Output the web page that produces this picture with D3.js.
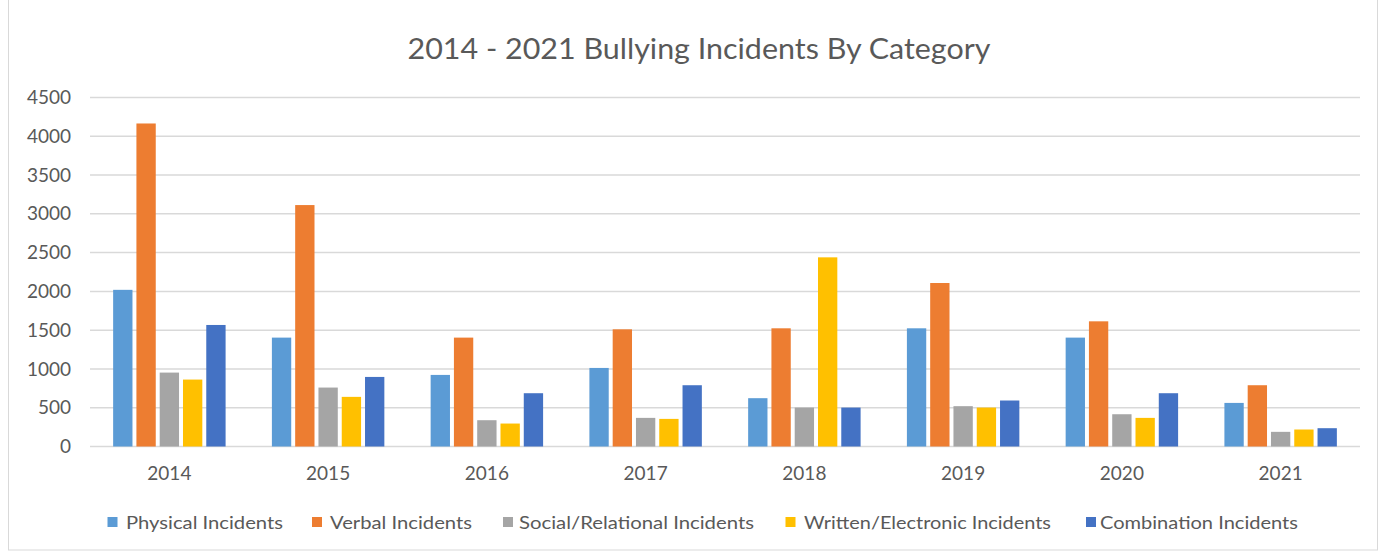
<!DOCTYPE html>
<html>
<head>
<meta charset="utf-8">
<script src="https://cdn.jsdelivr.net/npm/d3@7"></script>
<style>
  html, body { margin: 0; padding: 0; background: #fff; }
  svg { display: block; }
  text { font-family: Lato, "Noto Sans", sans-serif; fill: #595959; }
</style>
</head>
<body>
<svg id="chart" width="1379" height="552"></svg>
<script>
const years = ["2014", "2015", "2016", "2017", "2018", "2019", "2020", "2021"];
const seriesNames = ["Physical Incidents", "Verbal Incidents", "Social/Relational Incidents", "Written/Electronic Incidents", "Combination Incidents"];
const physical   = [2020, 1404, 923, 1013, 623, 1524, 1404, 562];
const verbal     = [4165, 3113, 1404, 1511, 1524, 2108, 1614, 790];
const social     = [953, 760, 339, 369, 502, 520, 416, 189];
const written    = [863, 640, 296, 356, 2439, 502, 369, 219];
const combination= [1567, 897, 687, 790, 502, 593, 687, 236];
const yTicks = [0, 500, 1000, 1500, 2000, 2500, 3000, 3500, 4000, 4500];
const colors = ["#5B9BD5", "#ED7D31", "#A5A5A5", "#FFC000", "#4472C4"];
const title = "2014 - 2021 Bullying Incidents By Category";

const seriesValues = [physical, verbal, social, written, combination];

const svg = d3.select("#chart");
const m = { left: 90, right: 1360, top: 97.5, bottom: 446.5 };

// chart border
svg.append("rect").attr("x", 8.5).attr("y", -2).attr("width", 1369).attr("height", 552)
  .attr("fill", "none").attr("stroke", "#d9d9d9").attr("stroke-width", 1);

const x0 = d3.scaleBand().domain(years).range([m.left, m.right])
  .paddingInner(0.2667).paddingOuter(0.1333);
const x1 = d3.scaleBand().domain(seriesNames).range([0, x0.bandwidth()]).paddingInner(0.17).paddingOuter(0.085);
const y = d3.scaleLinear().domain([0, 4500]).range([m.bottom, m.top]);

// gridlines
svg.append("g").selectAll("line").data(yTicks).join("line")
  .attr("x1", m.left).attr("x2", m.right)
  .attr("y1", d => y(d)).attr("y2", d => y(d))
  .attr("stroke", "#d9d9d9").attr("stroke-width", 1.5);

// y axis labels
const yAxis = d3.axisLeft(y).tickValues(yTicks).tickFormat(d3.format("d")).tickSize(0).tickPadding(0);
const gy = svg.append("g").attr("transform", `translate(71,0)`).call(yAxis);
gy.select(".domain").remove();
gy.selectAll("text").attr("font-family", "Lato, 'Noto Sans', sans-serif").attr("font-size", 19).attr("fill", "#595959");

// bars
const groups = svg.append("g").selectAll("g").data(years).join("g")
  .attr("transform", d => `translate(${x0(d)},0)`);
groups.selectAll("rect").data((yr, i) => seriesNames.map((s, j) => ({ s, j, v: seriesValues[j][i] })))
  .join("rect")
  .attr("x", d => x1(d.s))
  .attr("width", x1.bandwidth())
  .attr("y", d => y(d.v))
  .attr("height", d => y(0) - y(d.v))
  .attr("fill", d => colors[d.j]);

// x axis labels
const xAxis = d3.axisBottom(x0).tickSize(0).tickPadding(0);
const gx = svg.append("g").attr("transform", `translate(0,${m.bottom + 20})`).call(xAxis);
gx.select(".domain").remove();
gx.selectAll("text").attr("font-family", "Lato, 'Noto Sans', sans-serif").attr("font-size", 19).attr("fill", "#595959");

// title
svg.append("text").attr("x", 699).attr("y", 59).attr("text-anchor", "middle")
  .attr("font-size", 28).attr("textLength", 583).attr("lengthAdjust", "spacingAndGlyphs")
  .text(title);

// legend
const legendSquares = [107.5, 312, 503, 785.5, 1086];
const legendText = [[126, 157], [330, 142], [519, 235], [804, 247], [1100, 198]];
const lg = svg.append("g").selectAll("g").data(seriesNames).join("g");
lg.append("rect").attr("x", (d, i) => legendSquares[i]).attr("y", 517).attr("width", 10).attr("height", 10)
  .attr("fill", (d, i) => colors[i]);
lg.append("text").attr("x", (d, i) => legendText[i][0]).attr("y", 528.5)
  .attr("font-size", 18).attr("textLength", (d, i) => legendText[i][1]).attr("lengthAdjust", "spacingAndGlyphs")
  .text(d => d);
</script>
</body>
</html>
